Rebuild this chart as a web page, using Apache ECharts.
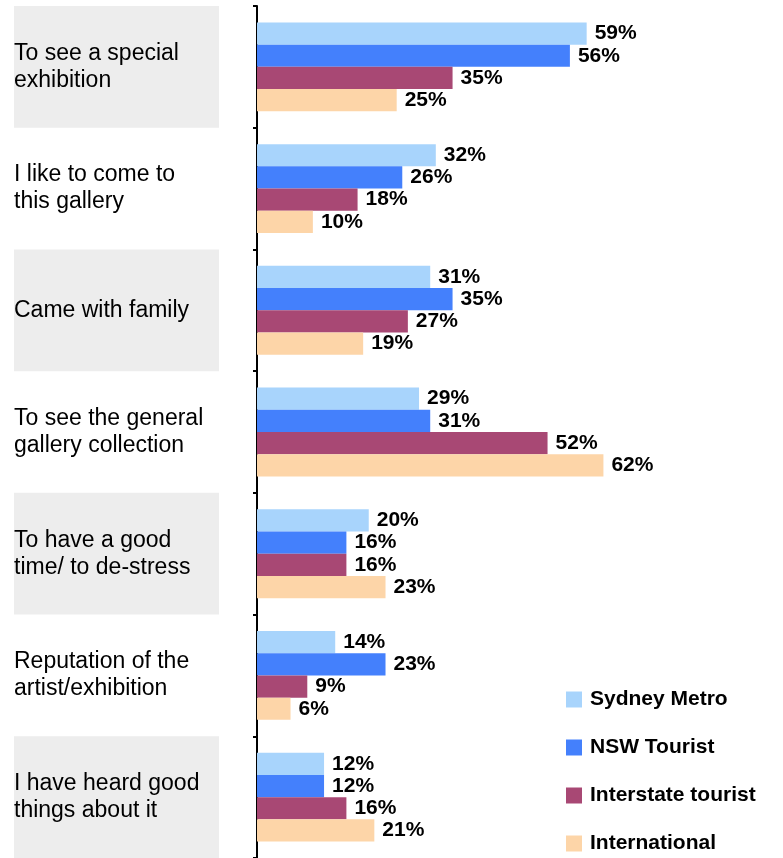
<!DOCTYPE html>
<html>
<head>
<meta charset="utf-8">
<script src="https://cdn.jsdelivr.net/npm/echarts@6/dist/echarts.min.js"></script>
<style>
  html, body { margin: 0; padding: 0; background: #fff; }
  #chart { width: 783px; height: 858px; }
</style>
</head>
<body>
<div id="chart"></div>
<script>
const categories = [
  'To see a special exhibition',
  'I like to come to this gallery',
  'Came with family',
  'To see the general gallery collection',
  'To have a good time/ to de-stress',
  'Reputation of the artist/exhibition',
  'I have heard good things about it'
]
const seriesNames = ['Sydney Metro', 'NSW Tourist', 'Interstate tourist', 'International']
const sydneyMetro = [59, 32, 31, 29, 20, 14, 12]
const nswTourist = [56, 26, 35, 31, 16, 23, 12]
const interstateTourist = [35, 18, 27, 52, 16, 9, 16]
const international = [25, 10, 19, 62, 23, 6, 21]

const colors = ['#a8d4fc', '#4480fc', '#a84874', '#fdd5a8']
const font = '"Liberation Sans", Arial, sans-serif'

const chart = echarts.init(document.getElementById('chart'))

const makeSeries = (name, data, i) => ({
  name,
  type: 'bar',
  xAxisIndex: 0,
  yAxisIndex: 0,
  data,
  barGap: '0%',
  barCategoryGap: '27%',
  itemStyle: { color: colors[i] },
  label: {
    show: true,
    position: 'right',
    distance: 8,
    formatter: '{c}%',
    color: '#000',
    fontFamily: font,
    fontWeight: 'bold',
    fontSize: 21
  }
})

const option = {
  animation: false,
  legend: {
    orient: 'vertical',
    left: 566,
    top: 689,
    height: 169,
    padding: 0,
    itemWidth: 16,
    itemHeight: 16,
    itemGap: 27,
    icon: 'rect',
    data: seriesNames,
    textStyle: {
      color: '#000',
      fontFamily: font,
      fontWeight: 'bold',
      fontSize: 21,
      padding: [0, 0, 0, 3]
    }
  },
  grid: [
    { left: 257, top: 6, width: 447, height: 857 },
    { left: 14, top: 6, width: 205, height: 857 }
  ],
  xAxis: [
    { type: 'value', gridIndex: 0, min: 0, max: 80, show: false },
    { type: 'value', gridIndex: 1, min: 0, max: 1, show: false }
  ],
  yAxis: [
    {
      type: 'category',
      gridIndex: 0,
      data: categories,
      inverse: true,
      axisLine: { lineStyle: { color: '#000', width: 2 } },
      axisTick: { show: true, length: 4, lineStyle: { color: '#000', width: 2 } },
      axisLabel: { show: false },
      splitLine: { show: false }
    },
    {
      type: 'category',
      gridIndex: 1,
      data: categories,
      inverse: true,
      axisLine: { show: false },
      axisTick: { show: false },
      splitLine: { show: false },
      splitArea: {
        show: true,
        areaStyle: { color: ['#ededed', 'rgba(255,255,255,0)'] }
      },
      axisLabel: {
        margin: 0,
        align: 'left',
        width: 200,
        overflow: 'break',
        color: '#000',
        fontFamily: font,
        fontSize: 23,
        lineHeight: 27
      }
    }
  ],
  series: [
    makeSeries(seriesNames[0], sydneyMetro, 0),
    makeSeries(seriesNames[1], nswTourist, 1),
    makeSeries(seriesNames[2], interstateTourist, 2),
    makeSeries(seriesNames[3], international, 3)
  ]
}

chart.setOption(option)
</script>
</body>
</html>
